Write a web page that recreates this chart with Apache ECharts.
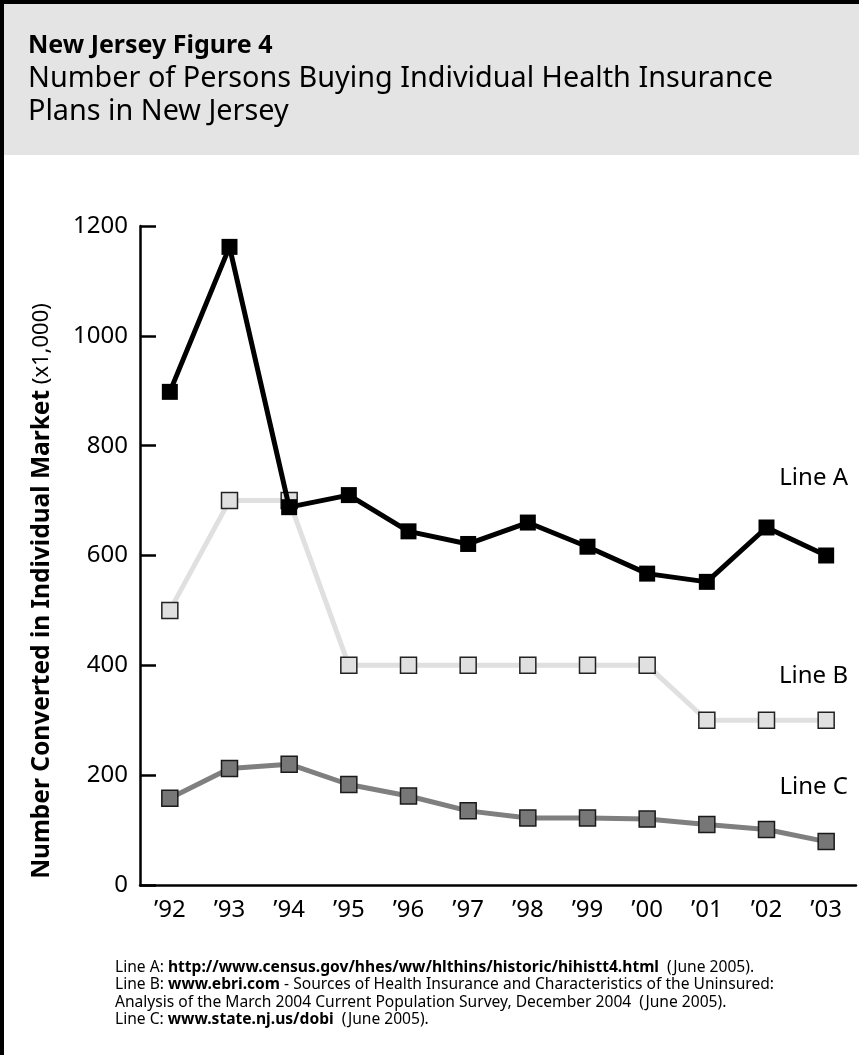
<!DOCTYPE html>
<html>
<head>
<meta charset="utf-8">
<script src="https://cdn.jsdelivr.net/npm/echarts@6/dist/echarts.min.js"></script>
<style>
  html, body { margin: 0; padding: 0; background: #fff; }
  #chart { width: 859px; height: 1055px; }
</style>
</head>
<body>
<div id="chart"></div>
<script>
const years = ['’92', '’93', '’94', '’95', '’96', '’97', '’98', '’99', '’00', '’01', '’02', '’03'];
const lineA = [898, 1162, 688, 710, 644, 621, 660, 616, 567, 552, 651, 600];
const lineB = [500, 700, 700, 400, 400, 400, 400, 400, 400, 300, 300, 300];
const lineC = [158, 212, 220, 183, 162, 135, 122, 122, 120, 110, 101, 79];

const font = '"Noto Sans", "Open Sans", sans-serif';

const chart = echarts.init(document.getElementById('chart'));

// footnote lines, bold parts marked with {b|...}
const notes = [
  'Line A: {b|http://www.census.gov/hhes/ww/hlthins/historic/hihistt4.html}  (June 2005).',
  'Line B: {b|www.ebri.com} - Sources of Health Insurance and Characteristics of the Uninsured:',
  'Analysis of the March 2004 Current Population Survey, December 2004  (June 2005).',
  'Line C: {b|www.state.nj.us/dobi}  (June 2005).'
];

const option = {
  backgroundColor: '#fff',
  animation: false,
  grid: {
    left: 140,
    right: 3,
    top: 226,
    bottom: 170
  },
  xAxis: {
    type: 'category',
    data: years,
    axisLine: { lineStyle: { color: '#000', width: 2.5 } },
    axisTick: { inside: true, length: 15, lineStyle: { color: '#000', width: 2.5 } },
    axisLabel: { color: '#000', fontSize: 24, fontFamily: font, margin: 13 },
    splitLine: { show: false }
  },
  yAxis: {
    type: 'value',
    min: 0,
    max: 1200,
    interval: 200,
    axisLine: { show: true, lineStyle: { color: '#000', width: 2.5 } },
    axisTick: { show: true, inside: true, length: 16, lineStyle: { color: '#000', width: 2.5 } },
    axisLabel: { color: '#000', fontSize: 24, fontFamily: font, margin: 12, formatter: v => String(v) },
    splitLine: { show: false }
  },
  series: [
    {
      name: 'Line B',
      type: 'line',
      data: lineB,
      symbol: 'rect',
      symbolSize: 16,
      z: 2,
      lineStyle: { color: '#e0e0e0', width: 5 },
      itemStyle: { color: '#e0e0e0', borderColor: '#222', borderWidth: 1.5 }
    },
    {
      name: 'Line C',
      type: 'line',
      data: lineC,
      symbol: 'rect',
      symbolSize: 16,
      z: 3,
      lineStyle: { color: '#7f7f7f', width: 5 },
      itemStyle: { color: '#777', borderColor: '#1a1a1a', borderWidth: 1.5 }
    },
    {
      name: 'Line A',
      type: 'line',
      data: lineA,
      symbol: 'rect',
      symbolSize: 16,
      z: 4,
      lineStyle: { color: '#000', width: 5 },
      itemStyle: { color: '#000', borderColor: '#000', borderWidth: 0 }
    }
  ],
  graphic: [
    // header band and frame
    { type: 'rect', left: 0, top: 0, shape: { width: 859, height: 155 }, style: { fill: '#e4e4e4' }, z: -10 },
    { type: 'rect', left: 0, top: 0, shape: { width: 859, height: 4 }, style: { fill: '#000' } },
    { type: 'rect', left: 0, top: 0, shape: { width: 4, height: 1055 }, style: { fill: '#000' } },
    {
      type: 'text', left: 28, top: 33,
      style: { text: 'New Jersey Figure 4', font: 'bold 25px ' + font, fill: '#000' }
    },
    {
      type: 'text', left: 28, top: 62,
      style: {
        text: 'Number of Persons Buying Individual Health Insurance\nPlans in New Jersey',
        font: '28.8px ' + font, fill: '#000', lineHeight: 33
      }
    },
    // y axis title, sits below the axis middle as in the original
    {
      type: 'text',
      x: 42, y: 591,
      rotation: Math.PI / 2,
      style: {
        text: '{b|Number Converted in Individual Market}{r| (x1,000)}',
        align: 'center',
        verticalAlign: 'middle',
        rich: {
          b: { fontSize: 24.5, fontWeight: 'bold', fontFamily: font, fill: '#000' },
          r: { fontSize: 22, fontFamily: font, fill: '#000' }
        }
      }
    },
    // line labels
    { type: 'text', right: 11, top: 466, style: { text: 'Line A', font: '24px ' + font, fill: '#000' } },
    { type: 'text', right: 11, top: 664, style: { text: 'Line B', font: '24px ' + font, fill: '#000' } },
    { type: 'text', right: 11, top: 775, style: { text: 'Line C', font: '24px ' + font, fill: '#000' } },
    // footnotes
    {
      type: 'text', left: 115, top: 959,
      style: {
        text: notes.join('\n'),
        font: '15.6px ' + font,
        fill: '#000',
        lineHeight: 17.3,
        rich: {
          b: { fontWeight: 'bold', fontSize: 15.6, fontFamily: font, fill: '#000' }
        }
      }
    }
  ]
};

chart.setOption(option);
</script>
</body>
</html>
